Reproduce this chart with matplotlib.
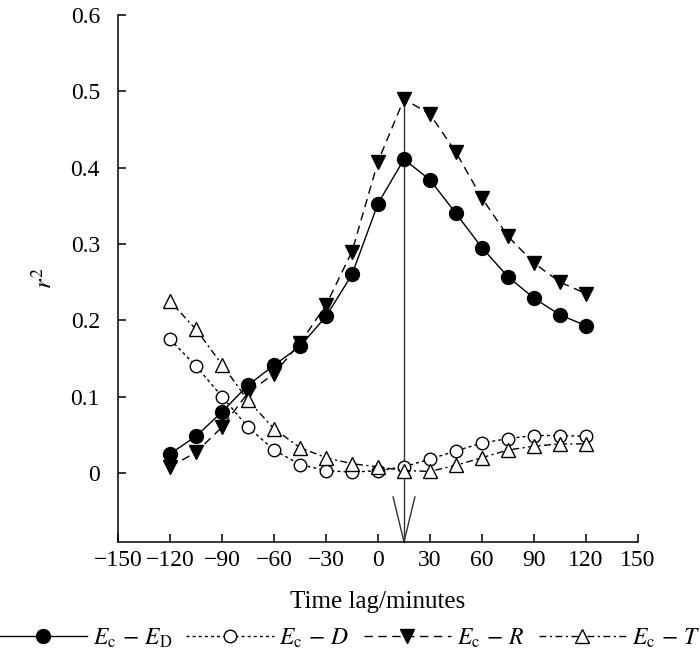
import matplotlib
matplotlib.use("Agg")
import matplotlib.pyplot as plt

plt.rcParams['font.family'] = ['Liberation Serif', 'DejaVu Serif']
plt.rcParams['mathtext.fontset'] = 'stix'

lags = [-120, -105, -90, -75, -60, -45, -30, -15, 0, 15, 30, 45, 60, 75, 90, 105, 120]
ec_ed = [0.025, 0.048, 0.080, 0.115, 0.141, 0.166, 0.205, 0.260, 0.353, 0.411, 0.384, 0.340, 0.295, 0.257, 0.229, 0.207, 0.193]
ec_d = [0.175, 0.140, 0.100, 0.060, 0.030, 0.011, 0.003, 0.001, 0.003, 0.008, 0.018, 0.029, 0.039, 0.045, 0.049, 0.049, 0.048]
ec_r = [0.008, 0.027, 0.060, 0.105, 0.130, 0.170, 0.220, 0.290, 0.408, 0.490, 0.470, 0.420, 0.360, 0.310, 0.275, 0.250, 0.235]
ec_t = [0.225, 0.188, 0.142, 0.095, 0.058, 0.033, 0.020, 0.012, 0.008, 0.003, 0.002, 0.010, 0.020, 0.030, 0.035, 0.038, 0.038]

xticks = [-150, -120, -90, -60, -30, 0, 30, 60, 90, 120, 150]
yticks = [0, 0.1, 0.2, 0.3, 0.4, 0.5, 0.6]
ytick_labels = ['0', '0.1', '0.2', '0.3', '0.4', '0.5', '0.6']

peak_lag = 15
peak_top = 0.492

fig = plt.figure(figsize=(7.0, 6.54), dpi=100)
ax = fig.add_axes([0.1686, 0.1713, 0.9114 - 0.1686, 0.977 - 0.1713])

lw = 1.0
ax.plot(lags, ec_ed, color='black', lw=lw, ls='-', marker='o', ms=10,
        mfc='black', mec='black', label=r'$E_{\mathrm{c}}\,-\,E_{\mathrm{D}}$', zorder=3)
ax.plot(lags, ec_d, color='black', lw=lw, ls=(0, (2.2, 2.2)), marker='o', ms=9,
        mfc='white', mec='black', mew=1.0, label=r'$E_{\mathrm{c}}\,-\,D$', zorder=3)
ax.plot(lags, ec_r, color='black', lw=lw, ls=(0, (6, 4)), marker='v', ms=10,
        mfc='black', mec='black', label=r'$E_{\mathrm{c}}\,-\,R$', zorder=3)
ax.plot(lags, ec_t, color='black', lw=lw, ls=(0, (5, 2.5, 1.5, 2.5)), marker='^', ms=10,
        mfc='white', mec='black', mew=1.0, label=r'$E_{\mathrm{c}}\,-\,T$', zorder=3)

ymin = -0.0905
ax.set_xlim(-150, 150)
ax.set_ylim(ymin, 0.6)

# vertical arrow at peak lag
ax.plot([peak_lag, peak_lag], [peak_top, ymin], color='#333333', lw=1.0, zorder=2, clip_on=False)
ax.plot([peak_lag - 6.3, peak_lag, peak_lag + 6.3], [ymin + 0.059, ymin, ymin + 0.059],
        color='#333333', lw=1.0, zorder=2, clip_on=False)

ax.spines['top'].set_visible(False)
ax.spines['right'].set_visible(False)
for s in ('left', 'bottom'):
    ax.spines[s].set_linewidth(1.1)

ax.set_xticks(xticks)
ax.set_yticks(yticks)
ax.set_yticklabels(ytick_labels)
ax.tick_params(direction='in', length=6, width=1.1, labelsize=17)
ax.tick_params(axis='x', pad=6)
ax.tick_params(axis='y', pad=13)

ax.set_xlabel('Time lag/minutes', fontsize=18, labelpad=14)
ax.set_ylabel(r'$r^2$', fontsize=18, labelpad=10)

handles, labels = ax.get_legend_handles_labels()
fig.legend(handles, labels, loc='center', bbox_to_anchor=(0.5, 0.024), ncol=4,
           frameon=False, fontsize=17, handlelength=3.7, handletextpad=0.25,
           columnspacing=0.6, borderaxespad=0, borderpad=0)

fig.savefig('out.png', dpi=100)
